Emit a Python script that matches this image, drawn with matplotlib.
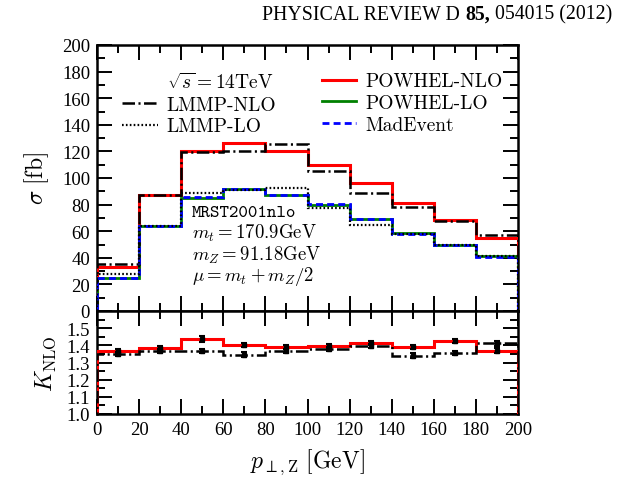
import matplotlib
matplotlib.use("Agg")
import matplotlib.pyplot as plt
import numpy as np
from matplotlib.lines import Line2D
from matplotlib.ticker import MultipleLocator, FuncFormatter

# bin edges in p_T,Z [GeV]
edges = np.arange(0, 201, 20)
centers = 0.5 * (edges[:-1] + edges[1:])

# differential cross sections [fb]
powhel_nlo = [33.0, 87.0, 120.0, 126.5, 120.0, 109.5, 96.0, 81.0, 68.5, 55.0]
lmmp_nlo = [35.5, 87.0, 119.5, 120.0, 125.5, 105.0, 89.0, 78.5, 68.0, 57.5]
powhel_lo = [24.5, 64.0, 85.0, 91.5, 87.0, 80.0, 69.0, 58.5, 49.5, 41.0]
madevent = [24.5, 64.0, 85.5, 92.0, 87.5, 80.5, 69.5, 58.0, 49.5, 40.5]
lmmp_lo = [27.5, 64.0, 89.0, 91.0, 92.5, 77.5, 64.5, 58.0, 50.0, 41.0]

# K factors
k_powhel = [1.365, 1.384, 1.437, 1.402, 1.388, 1.398, 1.413, 1.388, 1.427, 1.369]
k_lmmp = [1.349, 1.365, 1.365, 1.345, 1.369, 1.379, 1.398, 1.340, 1.353, 1.412]
k_powhel_err = [0.012, 0.012, 0.016, 0.012, 0.012, 0.012, 0.013, 0.012, 0.012, 0.014]
k_lmmp_err = [0.014, 0.012, 0.012, 0.014, 0.012, 0.012, 0.012, 0.014, 0.012, 0.014]

plt.rcParams['mathtext.fontset'] = 'cm'
plt.rcParams['font.family'] = 'Liberation Serif'
plt.rcParams['lines.scale_dashes'] = False

W, H = 624, 489
fig = plt.figure(figsize=(W / 100, H / 100), dpi=100)
x0, x1 = 97, 518
ax = fig.add_axes([x0 / W, 1 - 312 / H, (x1 - x0) / W, 266 / H])
axr = fig.add_axes([x0 / W, 1 - 415 / H, (x1 - x0) / W, 103 / H], sharex=ax)

dashdot = (0, (9, 2.5, 1.5, 2.5))
dotted = (0, (1.2, 1.6))
dashed = (0, (5, 3))

ax.stairs(powhel_nlo, edges, color='red', lw=2.2, zorder=3)
ax.stairs(lmmp_nlo, edges, color='black', lw=1.8, linestyle=dashdot, zorder=4)
ax.stairs(powhel_lo, edges, color='green', lw=2.0, zorder=3)
ax.stairs(madevent, edges, color='blue', lw=2.0, linestyle=dashed, zorder=4)
ax.stairs(lmmp_lo, edges, color='black', lw=1.6, linestyle=dotted, zorder=5)

ax.set_xlim(0, 200)
ax.set_ylim(0, 200)
ax.xaxis.set_major_locator(MultipleLocator(20))
ax.xaxis.set_minor_locator(MultipleLocator(10))
ax.yaxis.set_major_locator(MultipleLocator(20))
ax.yaxis.set_minor_locator(MultipleLocator(10))
ax.set_ylabel(r'$\sigma\ [\mathrm{fb}]$', fontsize=17, labelpad=8)

# legends
leg_font = {'family': 'cmr10', 'size': 14}
h_left = [Line2D([], [], color='none'),
          Line2D([], [], color='black', lw=1.8, linestyle=dashdot),
          Line2D([], [], color='black', lw=1.6, linestyle=dotted)]
l_left = [r'$\sqrt{s}=14\mathrm{TeV}$', 'LMMP-NLO', 'LMMP-LO']
leg1 = ax.legend(h_left, l_left, loc='upper left', bbox_to_anchor=(0.059, 0.9),
                 frameon=False, prop=leg_font, handlelength=1.85, handletextpad=0.45,
                 labelspacing=0.2, borderpad=0, borderaxespad=0)
ax.add_artist(leg1)
h_right = [Line2D([], [], color='red', lw=2.2),
           Line2D([], [], color='green', lw=2.0),
           Line2D([], [], color='blue', lw=2.0, linestyle=dashed)]
l_right = ['POWHEL-NLO', 'POWHEL-LO', 'MadEvent']
ax.legend(h_right, l_right, loc='upper left', bbox_to_anchor=(0.535, 0.897),
          frameon=False, prop=leg_font, handlelength=1.75, handletextpad=0.45,
          labelspacing=0.2, borderpad=0, borderaxespad=0)

# parameter box
ax.text(0.226, 0.372, 'MRST2001nlo', transform=ax.transAxes, family='cmtt10',
        fontsize=13, va='center', ha='left')
params = [r'$m_t=170.9\mathrm{GeV}$', r'$m_Z=91.18\mathrm{GeV}$', r'$\mu=m_t+m_Z/2$']
for i, s in enumerate(params):
    ax.text(0.226, 0.295 - 0.081 * i, s, transform=ax.transAxes, fontsize=13.5,
            va='center', ha='left')

# ratio panel
axr.stairs(k_powhel, edges, color='red', lw=2.2, zorder=3)
axr.stairs(k_lmmp, edges, color='black', lw=1.8, linestyle=dashdot, zorder=4)
axr.errorbar(centers, k_powhel, yerr=k_powhel_err, fmt='s', color='black', ms=3.5,
             capsize=2.5, elinewidth=1.5, capthick=1.5, zorder=5)
axr.errorbar(centers, k_lmmp, yerr=k_lmmp_err, fmt='s', color='black', ms=3.5,
             capsize=2.5, elinewidth=1.5, capthick=1.5, zorder=5)
axr.set_ylim(1.0, 1.6)
axr.yaxis.set_major_locator(MultipleLocator(0.1))
axr.yaxis.set_minor_locator(MultipleLocator(0.05))
axr.yaxis.set_major_formatter(FuncFormatter(lambda v, p: f'{v:.1f}' if v < 1.55 else ''))
axr.set_ylabel(r'$K_{\mathrm{NLO}}$', fontsize=17, labelpad=6)
axr.set_xlabel(r'$p_{\perp,\mathrm{Z}}\ [\mathrm{GeV}]$', fontsize=17, labelpad=6)

for a in (ax, axr):
    a.tick_params(which='both', direction='in', top=True, right=True,
                  labelsize=13.5, width=1.4, pad=5)
    a.tick_params(which='major', length=11)
    a.tick_params(which='minor', length=6)
    for s in a.spines.values():
        s.set_linewidth(1.8)
ax.tick_params(labelbottom=False)

# journal header
fig.canvas.draw()
r = fig.canvas.get_renderer()
parts = [('PHYSICAL REVIEW D ', 'normal'), ('85,', 'bold'), (' 054015 (2012)', 'normal')]
texts = [fig.text(0, 1 - 15 / H, s, fontsize=14.3, weight=w, va='center', ha='left')
         for s, w in parts]
widths = [t.get_window_extent(r).width for t in texts]
x = 612 - sum(widths)
for t, wd in zip(texts, widths):
    t.set_x(x / W)
    x += wd

fig.savefig('out.png', dpi=100)
